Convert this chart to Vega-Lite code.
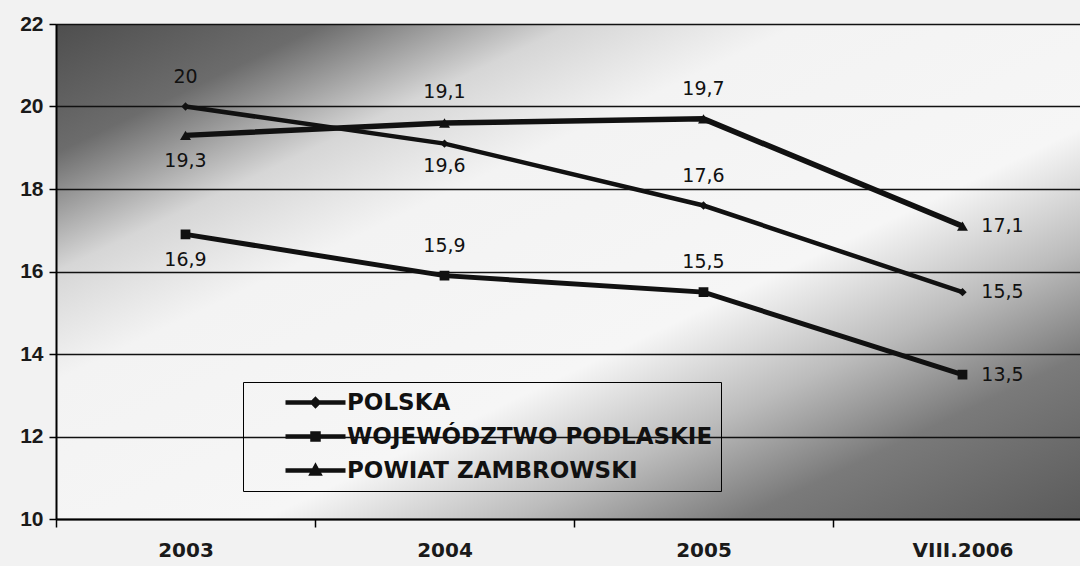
{
  "$schema": "https://vega.github.io/schema/vega-lite/v6.json",
  "autosize": {"type": "none"},
  "width": 1036,
  "height": 495,
  "padding": {"left": 56, "top": 24, "right": 0, "bottom": 47},
  "background": "#f2f2f2",
  "config": {
    "locale": {"number": {"decimal": ",", "thousands": " ", "grouping": [3], "currency": ["", " zł"]}},
    "view": {
      "stroke": null,
      "fill": {
        "gradient": "linear", "x1": 0, "y1": 0, "x2": 1, "y2": 1,
        "stops": [
          {"offset": 0, "color": "#4e4e4e"},
          {"offset": 0.13, "color": "#6c6c6c"},
          {"offset": 0.25, "color": "#d6d6d6"},
          {"offset": 0.36, "color": "#f3f3f3"},
          {"offset": 0.6, "color": "#f6f6f6"},
          {"offset": 0.72, "color": "#bcbcbc"},
          {"offset": 0.83, "color": "#7a7a7a"},
          {"offset": 1, "color": "#5a5a5a"}
        ]
      }
    },
    "axis": {"labelFont": "Liberation Sans", "labelFontWeight": "bold", "labelColor": "#1a1a1a", "domainColor": "#000", "tickColor": "#000", "title": null}
  },
  "data": {
    "values": [
      {"series": "POLSKA", "year": "2003", "value": 20},
      {"series": "POLSKA", "year": "2004", "value": 19.1},
      {"series": "POLSKA", "year": "2005", "value": 17.6},
      {"series": "POLSKA", "year": "VIII.2006", "value": 15.5},
      {"series": "WOJEWÓDZTWO PODLASKIE", "year": "2003", "value": 16.9},
      {"series": "WOJEWÓDZTWO PODLASKIE", "year": "2004", "value": 15.9},
      {"series": "WOJEWÓDZTWO PODLASKIE", "year": "2005", "value": 15.5},
      {"series": "WOJEWÓDZTWO PODLASKIE", "year": "VIII.2006", "value": 13.5},
      {"series": "POWIAT ZAMBROWSKI", "year": "2003", "value": 19.3},
      {"series": "POWIAT ZAMBROWSKI", "year": "2004", "value": 19.6},
      {"series": "POWIAT ZAMBROWSKI", "year": "2005", "value": 19.7},
      {"series": "POWIAT ZAMBROWSKI", "year": "VIII.2006", "value": 17.1}
    ]
  },
  "encoding": {
    "x": {
      "field": "year", "type": "ordinal", "sort": ["2003", "2004", "2005", "VIII.2006"],
      "scale": {"paddingInner": 0, "paddingOuter": 0},
      "axis": {"labelAngle": 0, "labelFont": "DejaVu Sans", "labelFontSize": 20, "labelPadding": 13, "tickBand": "extent", "tickSize": 8, "tickWidth": 1.5, "domainWidth": 2, "grid": false}
    },
    "y": {
      "field": "value", "type": "quantitative",
      "scale": {"domain": [10, 22], "nice": false, "zero": false},
      "axis": {"values": [10, 12, 14, 16, 18, 20, 22], "labelFontSize": 21, "labelPadding": 6, "tickSize": 7, "tickWidth": 1.5, "domainWidth": 2, "grid": true, "gridColor": "#111", "gridWidth": 1.5, "gridOpacity": 1}
    }
  },
  "layer": [
    {
      "mark": {"type": "line", "color": "#111"},
      "encoding": {
        "detail": {"field": "series"},
        "strokeWidth": {"field": "series", "type": "nominal", "scale": {"domain": ["POLSKA", "WOJEWÓDZTWO PODLASKIE", "POWIAT ZAMBROWSKI"], "range": [4.5, 5.5, 7]}, "legend": null}
      }
    },
    {
      "mark": {"type": "point", "filled": true, "color": "#111", "opacity": 1},
      "encoding": {
        "shape": {"field": "series", "type": "nominal", "scale": {"domain": ["POLSKA", "WOJEWÓDZTWO PODLASKIE", "POWIAT ZAMBROWSKI"], "range": ["diamond", "square", "triangle-up"]}, "legend": null},
        "size": {"field": "series", "type": "nominal", "scale": {"domain": ["POLSKA", "WOJEWÓDZTWO PODLASKIE", "POWIAT ZAMBROWSKI"], "range": [70, 120, 140]}, "legend": null}
      }
    },
    {
      "mark": {"type": "point", "filled": false, "color": "#111", "strokeWidth": 4.5, "opacity": 0},
      "encoding": {
        "shape": {
          "field": "series", "type": "nominal",
          "scale": {"domain": ["POLSKA", "WOJEWÓDZTWO PODLASKIE", "POWIAT ZAMBROWSKI"], "range": ["M-3,0H3M0,-0.3L0.3,0L0,0.3L-0.3,0Z", "M-3,0H3M-0.3,-0.3H0.3V0.3H-0.3Z", "M-3,0H3M0,-0.35L0.35,0.3H-0.35Z"]},
          "legend": {
            "orient": "none", "legendX": 187, "legendY": 358, "title": null,
            "padding": 8, "strokeColor": "#000",
            "symbolSize": 400, "symbolStrokeWidth": 4.5, "symbolFillColor": "#111", "symbolStrokeColor": "#111", "symbolOpacity": 1,
            "symbolOffset": 52, "labelOffset": 19, "rowPadding": 9,
            "labelFont": "DejaVu Sans", "labelFontSize": 23, "labelFontWeight": "bold", "labelColor": "#111", "labelLimit": 800,
            "encode": {
              "symbols": {"update": {"opacity": {"value": 1}, "stroke": {"value": "#111"}, "strokeWidth": {"value": 4.5}, "fill": {"value": "#111"}}},
              "legend": {"update": {"strokeWidth": {"value": 1.5}}}
            }
          }
        }
      }
    },
    {
      "transform": [{"filter": "(datum.series == 'POLSKA' && (datum.year == '2003' || datum.year == '2005')) || (datum.series == 'POWIAT ZAMBROWSKI' && datum.year == '2005') || (datum.series == 'WOJEWÓDZTWO PODLASKIE' && (datum.year == '2004' || datum.year == '2005'))"}],
      "mark": {"type": "text", "dy": -30, "font": "DejaVu Sans", "fontSize": 19, "color": "#111", "baseline": "middle"},
      "encoding": {"text": {"field": "value", "type": "quantitative", "format": ".1~f"}}
    },
    {
      "transform": [{"filter": "datum.series == 'POLSKA' && datum.year == '2004'"}],
      "mark": {"type": "text", "dy": -52, "font": "DejaVu Sans", "fontSize": 19, "color": "#111", "baseline": "middle"},
      "encoding": {"text": {"field": "value", "type": "quantitative", "format": ".1~f"}}
    },
    {
      "transform": [{"filter": "(datum.series == 'POWIAT ZAMBROWSKI' && datum.year == '2003') || (datum.series == 'WOJEWÓDZTWO PODLASKIE' && datum.year == '2003')"}],
      "mark": {"type": "text", "dy": 26, "font": "DejaVu Sans", "fontSize": 19, "color": "#111", "baseline": "middle"},
      "encoding": {"text": {"field": "value", "type": "quantitative", "format": ".1~f"}}
    },
    {
      "transform": [{"filter": "datum.series == 'POWIAT ZAMBROWSKI' && datum.year == '2004'"}],
      "mark": {"type": "text", "dy": 43, "font": "DejaVu Sans", "fontSize": 19, "color": "#111", "baseline": "middle"},
      "encoding": {"text": {"field": "value", "type": "quantitative", "format": ".1~f"}}
    },
    {
      "transform": [{"filter": "datum.year == 'VIII.2006'"}],
      "mark": {"type": "text", "dx": 40, "font": "DejaVu Sans", "fontSize": 19, "color": "#111", "baseline": "middle"},
      "encoding": {"text": {"field": "value", "type": "quantitative", "format": ".1~f"}}
    }
  ],
  "resolve": {"scale": {"shape": "independent"}, "legend": {"shape": "independent"}}
}
